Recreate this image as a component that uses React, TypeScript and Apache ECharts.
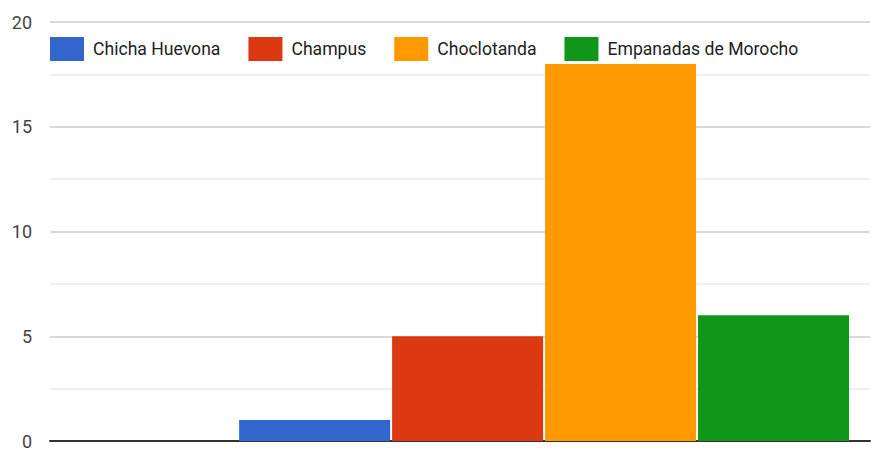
import React, { useEffect, useRef } from "react";
import * as echarts from "echarts";

const categories = [""];
const seriesNames = ["Chicha Huevona", "Champus", "Choclotanda", "Empanadas de Morocho"];
const seriesValues = [[1], [5], [18], [6]];
const colors = ["#3366cc", "#dc3912", "#ff9900", "#109618"];
const yTicks = { min: 0, max: 20, interval: 5 };

const FONT = "Roboto, 'Liberation Sans', sans-serif";

export default function App() {
  const ref = useRef<HTMLDivElement>(null);
  useEffect(() => {
    document.body.style.margin = "0";
    if (!ref.current) return;
    const chart = echarts.init(ref.current, undefined, { renderer: "svg" });
    const series: any[] = [
      {
        name: "_empty",
        type: "bar",
        data: [null],
        barWidth: 166,
        barGap: "1.3%",
        itemStyle: { color: "rgba(0,0,0,0)" },
        silent: true,
      },
      ...seriesNames.map((name, i) => ({
        name,
        type: "bar",
        data: seriesValues[i],
        barWidth: 151,
        barGap: "1.3%",
        itemStyle: { color: colors[i] },
      })),
    ];
    chart.setOption({
      animation: false,
      backgroundColor: "#ffffff",
      textStyle: { fontFamily: FONT },
      grid: { left: 50, right: 3, top: 22, bottom: 11, containLabel: false },
      legend: {
        data: seriesNames,
        left: 50,
        top: 37,
        padding: 0,
        itemWidth: 34,
        itemHeight: 24,
        itemGap: 28,
        icon: "rect",
        textStyle: { fontSize: 17.6, color: "#222222", fontFamily: FONT, padding: [0, 0, 0, 4] },
      },
      xAxis: {
        type: "category",
        data: categories,
        axisLine: { lineStyle: { color: "#333333", width: 2 } },
        axisTick: { show: false },
        axisLabel: { show: false },
      },
      yAxis: {
        type: "value",
        min: yTicks.min,
        max: yTicks.max,
        interval: yTicks.interval,
        axisLine: { show: false },
        axisTick: { show: false },
        axisLabel: { fontSize: 18, color: "#444444", margin: 18, fontFamily: FONT },
        splitLine: { lineStyle: { color: "#cccccc", width: 1.5 } },
        minorTick: { show: false, splitNumber: 2 },
        minorSplitLine: { show: true, lineStyle: { color: "#ebebeb", width: 1.5 } },
      },
      series,
    });
    return () => chart.dispose();
  }, []);
  return <div ref={ref} style={{ width: 873, height: 452 }} />;
}
